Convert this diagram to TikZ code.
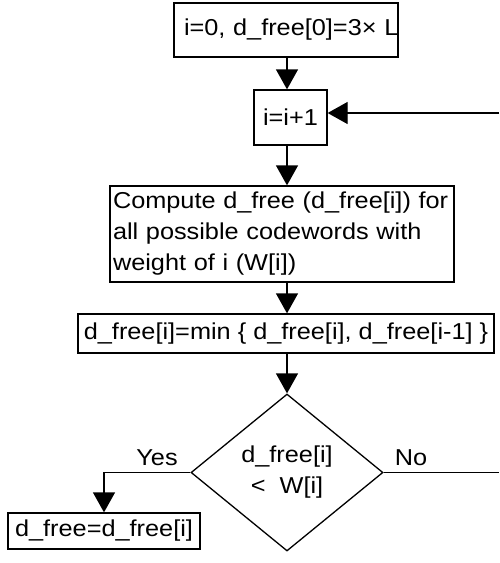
\documentclass[tikz,border=0pt]{standalone}
\usepackage{fontspec}
\setmainfont{Liberation Sans}[FakeStretch=1.1]
\usetikzlibrary{shapes.geometric,arrows.meta}

\begin{document}
\begin{tikzpicture}[x=1pt,y=-1pt,font=\fontsize{23}{31}\selectfont,
        box/.style={rectangle,draw,line width=1.3pt,inner sep=0pt},
        test/.style={diamond,draw,line width=1.3pt,inner sep=0pt,align=center},
        flow/.style={line width=1.3pt,-{Triangle[width=22pt,length=20pt]}}]
        \useasboundingbox (0,0) rectangle (499,563);
        \coordinate (loop) at (499,113);\coordinate (exit) at (499,474);
        \node[box,minimum width=224,minimum height=54,text width=204,align=left] (init) at (286,30) {i=0,~d\_free[0]=3×~L};
        \node[box,minimum width=73,minimum height=55] (inc) at (290.5,117.5) {i=i+1};
        \node[box,minimum width=344,minimum height=96,text width=338,align=left] (calc) at (282,234)
            {Compute d\_free (d\_free[i])~for\\all possible codewords with\\weight of i (W[i])};
        \node[box,minimum width=416,minimum height=39] (upd) at (286,333.5) {d\_free[i]=min \{ d\_free[i], d\_free[i-1] \}};
        \node[test,minimum width=192,minimum height=157] (dec) at (287,472.5) {d\_free[i]\\<~~W[i]};
        \node[box,minimum width=192,minimum height=36] (done) at (104,531) {d\_free=d\_free[i]};
        \node (yes) at (157,458) {Yes};
        \node (no) at (411,458) {No};
        \draw [flow] (dec |- init.south) -- (dec |- inc.north);
        \draw [flow] (dec |- inc.south) -- (dec |- calc.north);
        \draw [flow] (dec |- calc.south) -- (dec |- upd.north);
        \draw [flow] (upd.south -| dec) -- (dec.north);
        \draw [flow] (loop) -- (loop -| inc.east);
        \draw [flow] (dec.west) -| (done.north);
        \draw [line width=1.3pt] (dec.east) -- (dec.east -| exit);
    \end{tikzpicture}
\end{document}
